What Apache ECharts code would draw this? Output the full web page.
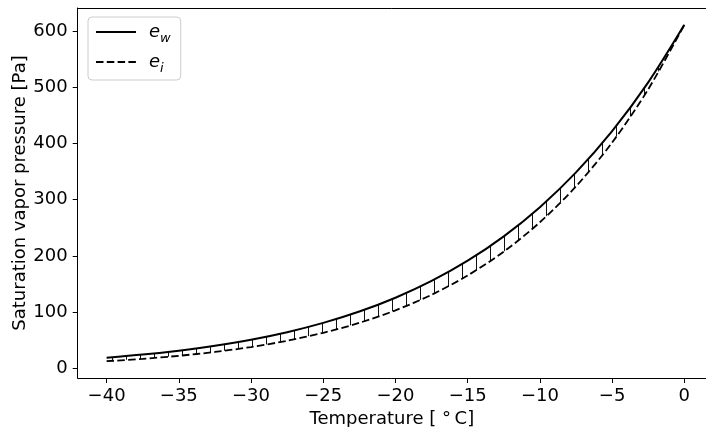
<!DOCTYPE html>
<html><head><meta charset="utf-8">
<script src="https://cdn.jsdelivr.net/npm/echarts@6/dist/echarts.min.js"></script>
<style>html,body{margin:0;padding:0;background:#fff}#c{width:706px;height:427px}</style>
</head><body><div id="c"></div>
<script>
// Temperature (°C)
const temps = [-40, -37.5, -35, -32.5, -30, -27.5, -25, -22.5, -20, -17.5, -15, -12.5, -10, -7.5, -5, -2.5, 0];
// Saturation vapour pressure over water e_w (Pa)
const ew = [19.0, 24.5, 31.5, 40.2, 51.0, 64.4, 80.9, 101.1, 125.7, 155.6, 191.6, 234.9, 286.8, 348.6, 422.0, 508.8, 611.2];
// Saturation vapour pressure over ice e_i (Pa)
const ei = [12.8, 17.0, 22.4, 29.2, 38.0, 49.2, 63.3, 81.0, 103.3, 130.9, 165.3, 207.7, 259.9, 323.8, 401.7, 496.5, 611.2];
const xTicks = [-40, -35, -30, -25, -20, -15, -10, -5, 0];
const yTicks = [0, 100, 200, 300, 400, 500, 600];

const pc = document.createElement('canvas');
pc.width = 14; pc.height = 4;
const g = pc.getContext('2d');
g.fillStyle = '#111';
g.fillRect(0, 0, 1, 4);

const fmt = v => String(v).replace('-', '\u2212');
const FONT = 'DejaVu Sans';
const FS = 18;

const chart = echarts.init(document.getElementById('c'), null, {renderer: 'canvas'});
chart.setOption({
  animation: false,
  backgroundColor: '#fff',
  textStyle: {fontFamily: FONT},
  grid: {left: 77.7, right: 0, top: 8, bottom: 49, show: false, containLabel: false, outerBoundsMode: 'none'},
  legend: {
    orient: 'vertical', left: 88, top: 17,
    padding: [6, 10, 5, 7],
    itemWidth: 40, itemHeight: 14, itemGap: 8,
    borderColor: '#cccccc', borderWidth: 1, borderRadius: 4,
    backgroundColor: 'rgba(255,255,255,0.8)',
    itemStyle: {opacity: 0},
    data: [{name: 'e_w'}, {name: 'e_i'}],
    formatter: n => n === 'e_w' ? '{e|e}{s|w}' : '{e|e}{s|i}',
    textStyle: {
      padding: [0, 0, 0, 8],
      rich: {
        e: {fontFamily: FONT, fontStyle: 'italic', fontSize: FS, color: '#000', verticalAlign: 'bottom'},
        s: {fontFamily: FONT, fontStyle: 'italic', fontSize: 13, color: '#000', verticalAlign: 'bottom', padding: [0, 0, -4, 0]}
      }
    }
  },
  xAxis: [{
    type: 'value', min: -42, max: 1.5, position: 'bottom', z: 10,
    name: 'Temperature [ °\u2009C]', nameLocation: 'middle', nameGap: 32, nameMoveOverlap: false,
    nameTextStyle: {fontFamily: FONT, fontSize: FS, color: '#000'},
    axisLine: {show: true, onZero: false, lineStyle: {color: '#000', width: 1}},
    axisTick: {show: true, length: 5, lineStyle: {color: '#000', width: 1}, customValues: xTicks},
    axisLabel: {fontFamily: FONT, fontSize: FS, color: '#000', margin: 9, customValues: xTicks, formatter: fmt},
    splitLine: {show: false}
  }, {
    type: 'value', min: -42, max: 1.5, position: 'top', z: 10,
    axisLine: {show: true, onZero: false, lineStyle: {color: '#000', width: 1}},
    axisTick: {show: false}, axisLabel: {show: false}, splitLine: {show: false}
  }],
  yAxis: {
    type: 'value', min: -17.1, max: 641.1, z: 10,
    name: 'Saturation vapor pressure [Pa]', nameLocation: 'middle', nameGap: 48, nameRotate: 90, nameMoveOverlap: false,
    nameTextStyle: {fontFamily: FONT, fontSize: FS, color: '#000'},
    axisLine: {show: true, onZero: false, lineStyle: {color: '#000', width: 1}},
    axisTick: {show: true, length: 5, lineStyle: {color: '#000', width: 1}, customValues: yTicks},
    axisLabel: {fontFamily: FONT, fontSize: FS, color: '#000', margin: 10, customValues: yTicks, formatter: fmt},
    splitLine: {show: false}
  },
  series: [
    {
      name: 'band', type: 'line', smooth: 0.3, symbol: 'none',
      data: temps.map((t, i) => [t, ew[i]]),
      lineStyle: {opacity: 0, width: 0},
      areaStyle: {color: {image: pc, repeat: 'repeat'}, opacity: 1, origin: 'start'},
      z: 1, silent: true
    },
    {
      name: 'e_i', type: 'line', smooth: 0.3, symbol: 'none',
      data: temps.map((t, i) => [t, ei[i]]),
      lineStyle: {color: '#000', width: 1.8, type: [7.5, 3.3]},
      areaStyle: {color: '#fff', opacity: 1, origin: 'start'},
      itemStyle: {color: '#000'}, z: 2
    },
    {
      name: 'e_w', type: 'line', smooth: 0.3, symbol: 'none',
      data: temps.map((t, i) => [t, ew[i]]),
      lineStyle: {color: '#000', width: 2},
      itemStyle: {color: '#000'}, z: 4
    }
  ]
});
</script></body></html>
